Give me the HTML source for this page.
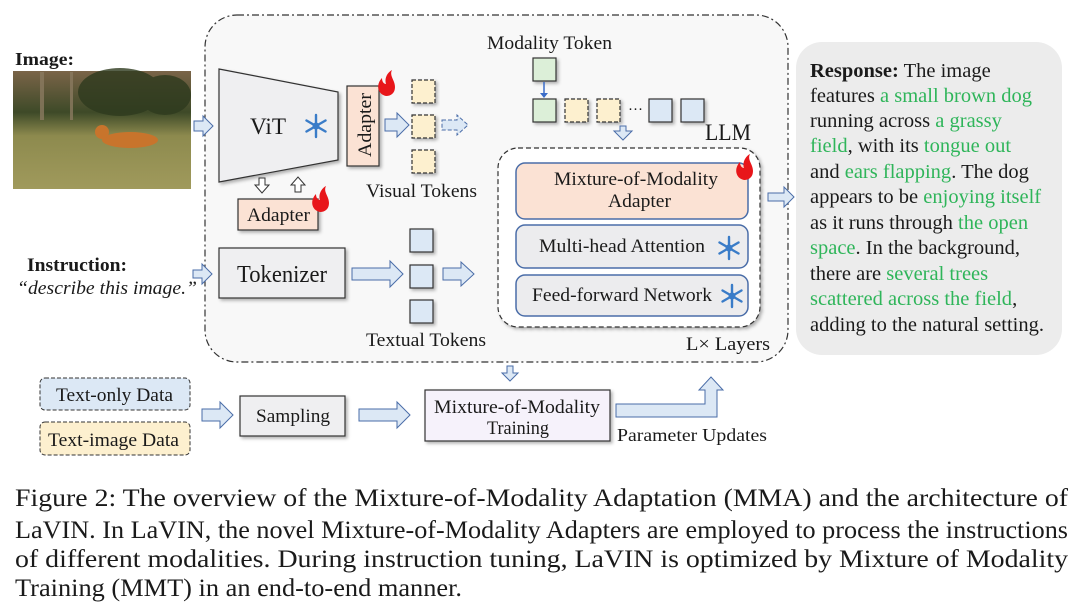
<!DOCTYPE html>
<html><head><meta charset="utf-8"><style>
html,body{margin:0;padding:0;background:#fff;width:1080px;height:608px;overflow:hidden}
svg text{font-family:"Liberation Serif",serif;fill:#1a1a1a}
</style></head><body>
<svg width="1080" height="608" viewBox="0 0 1080 608" xmlns="http://www.w3.org/2000/svg">
<defs>
<filter id="sh" x="-10%" y="-10%" width="130%" height="130%"><feDropShadow dx="2" dy="2" stdDeviation="1.5" flood-color="#000" flood-opacity="0.3"/></filter>
<linearGradient id="sky" x1="0" y1="0" x2="0" y2="1"><stop offset="0" stop-color="#7a6448"/><stop offset="0.35" stop-color="#3e4a28"/><stop offset="0.55" stop-color="#8d8a4e"/><stop offset="1" stop-color="#a09a5c"/></linearGradient>
<g id="flake"><g stroke="#3a7cc8" stroke-width="2.4" stroke-linecap="round"><line x1="0" y1="-11" x2="0" y2="11"/><line x1="-9.5" y1="-5.5" x2="9.5" y2="5.5"/><line x1="-9.5" y1="5.5" x2="9.5" y2="-5.5"/></g><circle r="3.5" fill="#3a7cc8"/></g>
<g id="fire"><path d="M0,12 C-9,10 -10,0 -4,-6 C-4,-2 -2,0 0,0 C-2,-6 2,-12 6,-14 C3,-8 9,-4 9,3 C9,9 5,12 0,12 Z" fill="#e8161a"/></g>
</defs>

<!-- Image -->
<text x="15" y="65" font-size="18" font-weight="bold" textLength="59" lengthAdjust="spacingAndGlyphs">Image:</text>
<rect x="13" y="71" width="178" height="118" fill="url(#sky)"/>
<g fill="#2e3a1e" opacity="0.8"><rect x="40" y="72" width="4" height="48" fill="#8a7a60"/><rect x="70" y="72" width="3" height="48" fill="#8a7a60"/><ellipse cx="120" cy="92" rx="42" ry="24"/><ellipse cx="165" cy="95" rx="26" ry="20"/></g>
<ellipse cx="130" cy="140" rx="28" ry="8" fill="#c8742c"/><circle cx="102" cy="132" r="7" fill="#c8742c"/>

<!-- big LaVIN box -->
<rect x="205" y="15" width="583" height="347" rx="32" fill="#f8f8f8" stroke="#333" stroke-width="1.2" stroke-dasharray="7,3,2,3"/>

<!-- ViT -->
<polygon points="219,69 338,92 338,160 219,182" fill="#efeff1" stroke="#333" stroke-width="1.2" filter="url(#sh)"/>
<text x="250" y="134" font-size="23" textLength="36" lengthAdjust="spacingAndGlyphs">ViT</text>
<use href="#flake" x="316" y="126"/>
<rect x="347" y="86" width="32" height="80" fill="#fbe2d4" stroke="#333" stroke-width="1.2" filter="url(#sh)"/>
<text transform="translate(371,157) rotate(-90)" font-size="19" textLength="64" lengthAdjust="spacingAndGlyphs">Adapter</text>
<use href="#fire" x="386" y="84"/>
<path d="M194,121 h9 v-5 l10,10 l-10,10 v-5 h-9 z" fill="#dce8f5" stroke="#4a6da8"/>
<path d="M385,119 h12 v-6 l12,12 l-12,12 v-6 h-12 z" fill="#dce8f5" stroke="#4a6da8"/>
<path d="M442,120 h15 v-5 l11,10 l-11,10 v-5 h-15 z" fill="#dce8f5" stroke="#4a6da8" stroke-dasharray="4,2"/>
<g fill="#fdf0cf" stroke="#333" stroke-dasharray="4,2" stroke-width="1.2" filter="url(#sh)">
<rect x="412" y="80" width="23" height="23"/><rect x="412" y="115" width="23" height="23"/><rect x="412" y="150" width="23" height="23"/></g>
<text x="366" y="197" font-size="19" textLength="111" lengthAdjust="spacingAndGlyphs">Visual Tokens</text>
<path d="M259,178 h6 v7 h4 l-7,8 l-7,-8 h4 z" fill="#fff" stroke="#333"/>
<path d="M295,192 h6 v-7 h4 l-7,-8 l-7,8 h4 z" fill="#fff" stroke="#333"/>
<rect x="238" y="199" width="80" height="31" fill="#fbe2d4" stroke="#333" stroke-width="1.2" filter="url(#sh)"/>
<text x="247" y="221" font-size="19" textLength="63" lengthAdjust="spacingAndGlyphs">Adapter</text>
<use href="#fire" x="320" y="200"/>

<!-- Instruction -->
<text x="27" y="271" font-size="19" font-weight="bold" textLength="100" lengthAdjust="spacingAndGlyphs">Instruction:</text>
<text x="17" y="294" font-size="19" font-style="italic" textLength="180" lengthAdjust="spacingAndGlyphs">“describe this image.”</text>
<path d="M193,270 h9 v-6 l10,10 l-10,10 v-6 h-9 z" fill="#dce8f5" stroke="#4a6da8"/>
<rect x="219" y="248" width="126" height="50" fill="#efeff1" stroke="#333" stroke-width="1.2" filter="url(#sh)"/>
<text x="237" y="282" font-size="24" textLength="90" lengthAdjust="spacingAndGlyphs">Tokenizer</text>
<path d="M352,268 h38 v-7 l13,13 l-13,13 v-7 h-38 z" fill="#dce8f5" stroke="#4a6da8"/>
<g fill="#dce8f5" stroke="#333" stroke-width="1.2" filter="url(#sh)">
<rect x="410" y="229" width="23" height="23"/><rect x="410" y="265" width="23" height="23"/><rect x="410" y="300" width="23" height="23"/></g>
<path d="M443,268 h18 v-6 l13,12 l-13,12 v-6 h-18 z" fill="#dce8f5" stroke="#4a6da8"/>
<text x="366" y="346" font-size="19" textLength="120" lengthAdjust="spacingAndGlyphs">Textual Tokens</text>

<!-- Modality tokens -->
<text x="487" y="49" font-size="19" textLength="125" lengthAdjust="spacingAndGlyphs">Modality Token</text>
<g stroke="#333" stroke-width="1.2" filter="url(#sh)">
<rect x="533" y="58" width="23" height="23" fill="#dcefd8"/>
<rect x="533" y="99" width="23" height="23" fill="#dcefd8"/>
<rect x="565" y="99" width="23" height="23" fill="#fdf0cf" stroke-dasharray="4,2"/>
<rect x="597" y="99" width="23" height="23" fill="#fdf0cf" stroke-dasharray="4,2"/>
<rect x="649" y="99" width="23" height="23" fill="#dce8f5"/>
<rect x="681" y="99" width="23" height="23" fill="#dce8f5"/></g>
<line x1="544" y1="82" x2="544" y2="95" stroke="#3a6cc8" stroke-width="1.5"/><path d="M540,93 l4,5 l4,-5 z" fill="#3a6cc8"/>
<text x="628" y="114" font-size="15">···</text>
<path d="M620,126 h6 v5 h6 l-9,9 l-9,-9 h6 z" fill="#dce8f5" stroke="#4a6da8"/>
<text x="705" y="140" font-size="23" textLength="46" lengthAdjust="spacingAndGlyphs">LLM</text>

<!-- inner LLM box -->
<rect x="498" y="148" width="262" height="179" rx="20" fill="#fff" stroke="#333" stroke-width="1.2" stroke-dasharray="5,3" filter="url(#sh)"/>
<rect x="516" y="163" width="232" height="56" rx="9" fill="#fbe2d4" stroke="#4a6da8" stroke-width="1.5"/>
<text x="554" y="185" font-size="19" textLength="164" lengthAdjust="spacingAndGlyphs">Mixture-of-Modality</text>
<text x="608" y="207" font-size="19" textLength="63" lengthAdjust="spacingAndGlyphs">Adapter</text>
<use href="#fire" x="744" y="168"/>
<rect x="516" y="225" width="232" height="43" rx="9" fill="#ececee" stroke="#4a6da8" stroke-width="1.5"/>
<text x="539" y="252" font-size="19" textLength="166" lengthAdjust="spacingAndGlyphs">Multi-head Attention</text>
<use href="#flake" x="729" y="248"/>
<rect x="516" y="275" width="232" height="41" rx="9" fill="#ececee" stroke="#4a6da8" stroke-width="1.5"/>
<text x="532" y="301" font-size="19" textLength="180" lengthAdjust="spacingAndGlyphs">Feed-forward Network</text>
<use href="#flake" x="732" y="296"/>
<text x="686" y="350" font-size="19" textLength="84" lengthAdjust="spacingAndGlyphs">L× Layers</text>

<path d="M768,193 h16 v-6 l10,10 l-10,10 v-6 h-16 z" fill="#dce8f5" stroke="#4a6da8"/>

<!-- Response -->
<rect x="796" y="42" width="266" height="313" rx="26" fill="#ececec"/>
<g font-size="20.5">
<text x="810" y="77"><tspan font-weight="bold">Response:</tspan> The image</text>
<text x="810" y="102">features <tspan fill="#2fb55a">a small brown dog</tspan></text>
<text x="810" y="127">running across <tspan fill="#2fb55a">a grassy</tspan></text>
<text x="810" y="152"><tspan fill="#2fb55a">field</tspan>, with its <tspan fill="#2fb55a">tongue out</tspan></text>
<text x="810" y="178">and <tspan fill="#2fb55a">ears flapping</tspan>. The dog</text>
<text x="810" y="203">appears to be <tspan fill="#2fb55a">enjoying itself</tspan></text>
<text x="810" y="229">as it runs through <tspan fill="#2fb55a">the open</tspan></text>
<text x="810" y="254"><tspan fill="#2fb55a">space</tspan>. In the background,</text>
<text x="810" y="280">there are <tspan fill="#2fb55a">several trees</tspan></text>
<text x="810" y="305"><tspan fill="#2fb55a">scattered across the field</tspan>,</text>
<text x="810" y="331">adding to the natural setting.</text>
</g>

<!-- bottom -->
<path d="M507,366 h6 v7 h5 l-8,8 l-8,-8 h5 z" fill="#dce8f5" stroke="#4a6da8"/>
<rect x="40" y="378" width="150" height="32" rx="5" fill="#dce8f5" stroke="#333" stroke-dasharray="4,2"/>
<text x="56" y="401" font-size="19" textLength="117" lengthAdjust="spacingAndGlyphs">Text-only Data</text>
<rect x="40" y="422" width="150" height="33" rx="5" fill="#fdf0cf" stroke="#333" stroke-dasharray="4,2"/>
<text x="48" y="446" font-size="19" textLength="131" lengthAdjust="spacingAndGlyphs">Text-image Data</text>
<path d="M202,409 h18 v-7 l13,13 l-13,13 v-7 h-18 z" fill="#dce8f5" stroke="#4a6da8"/>
<rect x="240" y="396" width="105" height="40" fill="#efeff1" stroke="#333" stroke-width="1.2" filter="url(#sh)"/>
<text x="256" y="422" font-size="19" textLength="74" lengthAdjust="spacingAndGlyphs">Sampling</text>
<path d="M359,409 h38 v-7 l13,13 l-13,13 v-7 h-38 z" fill="#dce8f5" stroke="#4a6da8"/>
<rect x="425" y="390" width="185" height="51" fill="#f6f2fb" stroke="#333" stroke-width="1.2" filter="url(#sh)"/>
<text x="434" y="413" font-size="19" textLength="166" lengthAdjust="spacingAndGlyphs">Mixture-of-Modality</text>
<text x="487" y="434" font-size="19" textLength="62" lengthAdjust="spacingAndGlyphs">Training</text>
<path d="M616,404 h89 v-14 h-6 l12,-13 l12,13 h-6 v27 h-101 z" fill="#dce8f5" stroke="#4a6da8"/>
<text x="617" y="441" font-size="18" textLength="150" lengthAdjust="spacingAndGlyphs">Parameter Updates</text>

<!-- caption -->
<g font-size="25">
<text x="15" y="506" textLength="1053" lengthAdjust="spacingAndGlyphs">Figure 2: The overview of the Mixture-of-Modality Adaptation (MMA) and the architecture of</text>
<text x="15" y="538" textLength="1053" lengthAdjust="spacingAndGlyphs">LaVIN. In LaVIN, the novel Mixture-of-Modality Adapters are employed to process the instructions</text>
<text x="15" y="567" textLength="1053" lengthAdjust="spacingAndGlyphs">of different modalities.  During instruction tuning, LaVIN is optimized by Mixture of Modality</text>
<text x="15" y="596" textLength="447" lengthAdjust="spacingAndGlyphs">Training (MMT) in an end-to-end manner.</text>
</g>
</svg>
</body></html>
